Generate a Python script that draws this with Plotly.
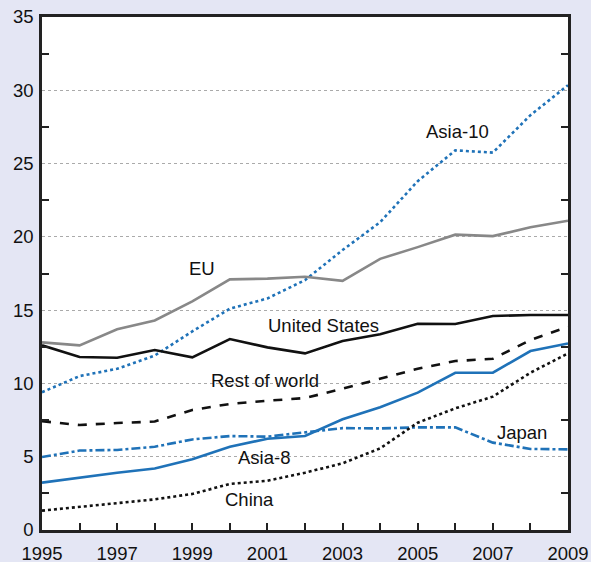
import plotly.graph_objects as go

years = list(range(1995, 2010))

asia10 = [9.4, 10.5, 11.0, 11.9, 13.55, 15.1, 15.8, 17.05, 19.1, 21.0, 23.8, 25.9, 25.75, 28.3, 30.35]
eu = [12.8, 12.6, 13.7, 14.3, 15.6, 17.1, 17.15, 17.28, 17.0, 18.5, 19.3, 20.15, 20.05, 20.65, 21.1]
us = [12.6, 11.8, 11.75, 12.28, 11.78, 13.03, 12.46, 12.05, 12.9, 13.35, 14.07, 14.05, 14.6, 14.67, 14.67]
rest = [7.42, 7.16, 7.3, 7.4, 8.19, 8.6, 8.82, 9.0, 9.64, 10.3, 11.0, 11.53, 11.68, 12.96, 13.87]
japan = [4.98, 5.42, 5.46, 5.68, 6.18, 6.41, 6.37, 6.64, 6.95, 6.93, 7.0, 7.0, 5.96, 5.53, 5.5]
asia8 = [3.23, 3.59, 3.91, 4.2, 4.82, 5.68, 6.23, 6.41, 7.55, 8.37, 9.37, 10.73, 10.73, 12.21, 12.73]
china = [1.32, 1.59, 1.82, 2.09, 2.46, 3.14, 3.36, 3.91, 4.55, 5.57, 7.32, 8.3, 9.1, 10.73, 12.05]

labels = ["Asia-10", "EU", "United States", "Rest of world", "Japan", "Asia-8", "China"]
label_x = [2006.07, 1999.26, 2002.48, 2000.94, 2007.78, 2000.91, 2000.51]
label_y = [27.2, 17.87, 13.98, 10.23, 6.62, 4.98, 2.05]

BLUE = "#1f72b8"
BG = "#e4e6f4"
series = [
    ("Asia-10", asia10, BLUE, "dot"),
    ("EU", eu, "#888888", "solid"),
    ("United States", us, "#111111", "solid"),
    ("Rest of world", rest, "#111111", "dash"),
    ("Japan", japan, BLUE, "dashdot"),
    ("Asia-8", asia8, BLUE, "solid"),
    ("China", china, "#111111", "dot"),
]

FONT = "Liberation Sans, Arial, sans-serif"

fig = go.Figure()
for name, vals, color, dash in series:
    fig.add_trace(go.Scatter(x=years, y=vals, mode="lines", name=name,
                             line=dict(color=color, width=2.6, dash=dash)))

for t, x, y in zip(labels, label_x, label_y):
    fig.add_annotation(x=x, y=y, text=t, showarrow=False,
                       font=dict(size=18.5, color="#111111", family=FONT))

fig.update_layout(
    width=591, height=562,
    margin=dict(l=42, r=23, t=17, b=32, autoexpand=False),
    paper_bgcolor=BG,
    plot_bgcolor="#ffffff",
    showlegend=False,
    font=dict(family=FONT, size=18.5, color="#111111"),
)
fig.update_xaxes(
    range=[1995, 2009], tickmode="linear", tick0=1995, dtick=2,
    ticks="inside", ticklen=7, tickwidth=1.5, tickcolor="#222222",
    minor=dict(dtick=1, tick0=1995, ticks="inside", ticklen=7, tickwidth=1.5, tickcolor="#222222", showgrid=False),
    showgrid=False, zeroline=False, automargin=False,
    showline=True, linecolor="#222222", linewidth=2.5, mirror=True,
    tickfont=dict(size=18.5), ticklabelstandoff=5,
)
fig.update_yaxes(
    range=[0, 35], tickmode="linear", tick0=0, dtick=5,
    ticks="", showgrid=True, gridcolor="#aaaaaa", griddash="dot", gridwidth=1,
    minor=dict(tick0=2.5, dtick=5, ticks="inside", ticklen=7, tickwidth=1.5, tickcolor="#222222", showgrid=False),
    zeroline=False, automargin=False,
    showline=True, linecolor="#222222", linewidth=2.5, mirror="allticks",
    tickfont=dict(size=18.5), ticklabelstandoff=2,
)

fig.write_html(
    "out.html",
    config={"displayModeBar": False},
    post_script="document.body.style.margin='0';document.body.style.background='" + BG + "';document.body.style.overflow='hidden';",
)
